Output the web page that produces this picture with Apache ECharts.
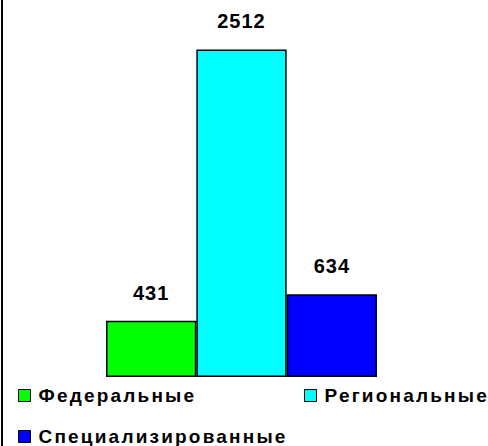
<!DOCTYPE html>
<html>
<head>
<meta charset="utf-8">
<script src="https://cdn.jsdelivr.net/npm/echarts@6/dist/echarts.min.js"></script>
<style>
  html, body { margin: 0; padding: 0; background: #fff; }
  #chart { width: 488px; height: 446px; }
  /* the original text is set with wide character spacing */
  #chart svg text { letter-spacing: 1px; }
  #chart svg text[style*="19px"] { letter-spacing: 2.2px; }
</style>
</head>
<body>
<div id="chart"></div>
<script>
const categories = ['Учреждения'];
const seriesNames = ['Федеральные', 'Региональные', 'Специализированные'];
const seriesValues = [431, 2512, 634];
const seriesColors = ['#00ff00', '#00ffff', '#0000ff'];

const chart = echarts.init(document.getElementById('chart'), null, { renderer: 'svg' });

const font = '"Liberation Sans", Arial, sans-serif';

const legendPos = [
  { left: 18, top: 386 },
  { left: 304, top: 386 },
  { left: 18, top: 427 }
];

const options = {
  backgroundColor: '#ffffff',
  animation: false,
  textStyle: { fontFamily: font },
  grid: { left: 106, right: 111, top: 38, bottom: 69 },
  xAxis: {
    type: 'category',
    data: categories,
    show: false
  },
  yAxis: {
    type: 'value',
    min: 0,
    max: 2600,
    show: false,
    splitLine: { show: false }
  },
  legend: seriesNames.map((name, i) => ({
    data: [name],
    left: legendPos[i].left,
    top: legendPos[i].top,
    padding: 0,
    icon: 'rect',
    itemWidth: 12,
    itemHeight: 12,
    itemGap: 0,
    selectedMode: false,
    itemStyle: { borderColor: '#000', borderWidth: 1 },
    textStyle: { fontSize: 19, fontWeight: 'bold', color: '#000', fontFamily: font, padding: [0, 0, 0, 3] }
  })),
  series: seriesNames.map((name, i) => ({
    type: 'bar',
    name: name,
    data: [seriesValues[i]],
    barGap: '0%',
    barCategoryGap: '0%',
    itemStyle: { color: seriesColors[i], borderColor: '#000', borderWidth: 1.5 },
    label: {
      show: true,
      position: 'top',
      distance: 18,
      fontSize: 20,
      fontWeight: 'bold',
      color: '#000',
      fontFamily: font
    }
  })),
  graphic: [
    { type: 'rect', shape: { x: 1, y: 0, width: 2, height: 446 }, style: { fill: '#000' }, silent: true }
  ]
};

chart.setOption(options);
</script>
</body>
</html>
